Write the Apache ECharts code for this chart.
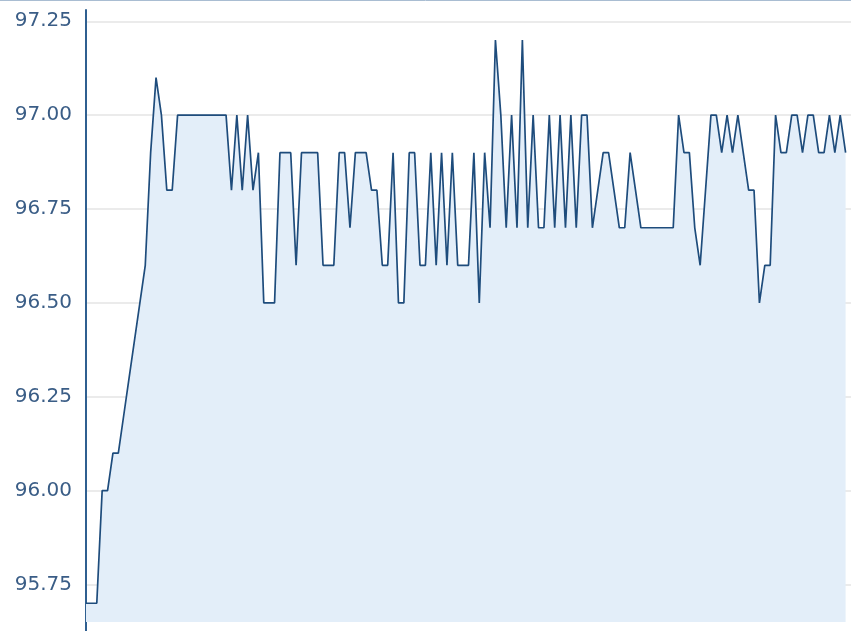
<!DOCTYPE html>
<html>
<head>
<meta charset="utf-8">
<script src="https://cdn.jsdelivr.net/npm/echarts@6/dist/echarts.min.js"></script>
<style>
html,body{margin:0;padding:0;background:#fff;}
#c{width:851px;height:631px;}
</style>
</head>
<body>
<div id="c"></div>
<script>
// sample values (one reading per step)
const values = [
  95.7, 95.7, 95.7, 96.0, 96.0, 96.1, 96.1, 96.2, 96.3, 96.4,
  96.5, 96.6, 96.9, 97.1, 97.0, 96.8, 96.8, 97.0, 97.0, 97.0,
  97.0, 97.0, 97.0, 97.0, 97.0, 97.0, 97.0, 96.8, 97.0, 96.8,
  97.0, 96.8, 96.9, 96.5, 96.5, 96.5, 96.9, 96.9, 96.9, 96.6,
  96.9, 96.9, 96.9, 96.9, 96.6, 96.6, 96.6, 96.9, 96.9, 96.7,
  96.9, 96.9, 96.9, 96.8, 96.8, 96.6, 96.6, 96.9, 96.5, 96.5,
  96.9, 96.9, 96.6, 96.6, 96.9, 96.6, 96.9, 96.6, 96.9, 96.6,
  96.6, 96.6, 96.9, 96.5, 96.9, 96.7, 97.2, 97.0, 96.7, 97.0,
  96.7, 97.2, 96.7, 97.0, 96.7, 96.7, 97.0, 96.7, 97.0, 96.7,
  97.0, 96.7, 97.0, 97.0, 96.7, 96.8, 96.9, 96.9, 96.8, 96.7,
  96.7, 96.9, 96.8, 96.7, 96.7, 96.7, 96.7, 96.7, 96.7, 96.7,
  97.0, 96.9, 96.9, 96.7, 96.6, 96.8, 97.0, 97.0, 96.9, 97.0,
  96.9, 97.0, 96.9, 96.8, 96.8, 96.5, 96.6, 96.6, 97.0, 96.9,
  96.9, 97.0, 97.0, 96.9, 97.0, 97.0, 96.9, 96.9, 97.0, 96.9,
  97.0, 96.9
];
// category slots (one extra empty slot at the right end)
const categories = [];
for (let i = 0; i <= values.length; i++) categories.push(String(i + 1));
// y-axis tick labels
const yTicks = [95.75, 96.00, 96.25, 96.50, 96.75, 97.00, 97.25];
const yMin = 95.65, yMax = 97.28;

const chart = echarts.init(document.getElementById('c'), null, {renderer: 'canvas'});
chart.setOption({
  animation: false,
  backgroundColor: '#ffffff',
  grid: {left: 86, right: 0, top: 10, bottom: 9, containLabel: false},
  xAxis: {
    type: 'category',
    data: categories,
    boundaryGap: false,
    show: false
  },
  yAxis: {
    type: 'value',
    min: yMin,
    max: yMax,
    axisLine: {show: true, lineStyle: {color: '#2f5f90', width: 2}},
    axisTick: {show: false, customValues: yTicks},
    axisLabel: {
      customValues: yTicks,
      formatter: v => v.toFixed(2),
      color: '#3a5d86',
      fontFamily: 'DejaVu Sans',
      fontSize: 20,
      margin: 14
    },
    splitLine: {show: true, lineStyle: {color: '#e4e4e4', width: 1.5}}
  },
  series: [{
    type: 'line',
    data: values,
    symbol: 'none',
    lineStyle: {color: '#1e4c7c', width: 1.7},
    areaStyle: {color: '#e3eef9', opacity: 1, origin: 'start'},
    silent: true
  }],
  graphic: [
    {type: 'line', shape: {x1: 0, y1: 0.5, x2: 851, y2: 0.5}, style: {stroke: '#a9bdd2', lineWidth: 1}},
    {type: 'line', shape: {x1: 86, y1: 621, x2: 86, y2: 631}, style: {stroke: '#2f5f90', lineWidth: 2}}
  ]
});
</script>
</body>
</html>
